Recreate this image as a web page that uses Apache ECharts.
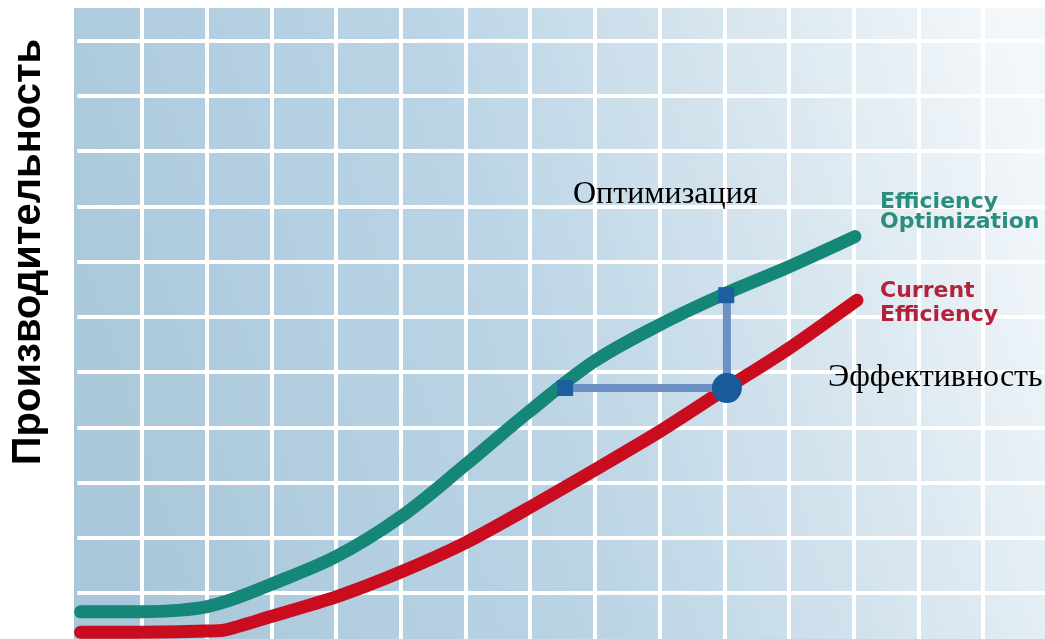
<!DOCTYPE html>
<html>
<head>
<meta charset="utf-8">
<script src="https://cdn.jsdelivr.net/npm/echarts@6/dist/echarts.min.js"></script>
<style>
html,body{margin:0;padding:0;background:#ffffff;}
#chart{width:1045px;height:639px;}
</style>
</head>
<body>
<div id="chart"></div>
<script>
// Efficiency Optimization curve (teal) – x in grid cells, y in grid cells
const optimizationX = [0.05, 1.0, 1.59, 1.99, 2.36, 2.98, 4.0, 5.0, 6.0, 6.98, 8.0, 9.01, 9.98, 10.99, 12.02];
const optimizationY = [0.66, 0.66, 0.69, 0.75, 0.87, 1.15, 1.66, 2.38, 3.32, 4.28, 5.20, 5.86, 6.40, 6.90, 7.45];
// Current Efficiency curve (red)
const currentX = [0.05, 1.0, 1.99, 2.28, 2.98, 4.0, 5.0, 6.0, 6.98, 8.0, 9.01, 10.04, 10.99, 12.05];
const currentY = [0.29, 0.29, 0.31, 0.33, 0.57, 0.93, 1.38, 1.91, 2.54, 3.23, 3.93, 4.71, 5.42, 6.30];
// Gap bracket between the curves
const gapX = [7.54, 10.04, 10.04];
const gapY = [4.71, 4.71, 6.39];
const squareX = [7.54, 10.03];
const squareY = [4.71, 6.39];
const circleX = [10.04];
const circleY = [4.71];
// Texts
const yTitle = 'Производительность';
const labelOptim = 'Оптимизация';
const labelEff = 'Эффективность';
const legendOptim = ['Efficiency', 'Optimization'];
const legendCurrent = ['Current', 'Efficiency'];

const zip = (xs, ys) => xs.map((x, i) => [x, ys[i]]);

const chart = echarts.init(document.getElementById('chart'), null, {renderer: 'canvas'});

const teal = '#158779';
const red = '#c90d1f';

chart.setOption({
  animation: false,
  backgroundColor: '#ffffff',
  grid: {left: 77.3, right: -2.8, top: -14.75, bottom: -9.25, containLabel: false, outerBoundsMode: 'none'},
  xAxis: {
    type: 'value', min: 0, max: 15, interval: 1,
    axisLine: {show: false}, axisTick: {show: false}, axisLabel: {show: false},
    splitLine: {show: true, showMinLine: false, lineStyle: {color: '#ffffff', width: 4}}
  },
  yAxis: {
    type: 'value', min: 0, max: 12, interval: 1,
    axisLine: {show: false}, axisTick: {show: false}, axisLabel: {show: false},
    splitLine: {show: true, lineStyle: {color: '#ffffff', width: 4}}
  },
  graphic: [
    {
      type: 'rect', z: -10, silent: true,
      shape: {x: 74, y: 8, width: 971, height: 631},
      style: {
        fill: new echarts.graphic.LinearGradient(0, 0.75, 1, 0.25, [
          {offset: 0, color: '#a9c7da'},
          {offset: 0.45, color: '#bad4e5'},
          {offset: 0.72, color: '#d5e4ee'},
          {offset: 1, color: '#f3f7fa'}
        ])
      }
    },
    {
      type: 'text', z: 100, x: 29, y: 252, rotation: Math.PI / 2,
      style: {text: yTitle, font: 'bold 40px "Liberation Sans", Arial, sans-serif', fill: '#000000', align: 'center', verticalAlign: 'middle'}
    },
    {
      type: 'text', z: 100, x: 573, y: 195,
      style: {text: labelOptim, font: '32px "Liberation Serif", "Times New Roman", serif', fill: '#000000', align: 'left', verticalAlign: 'middle'}
    },
    {
      type: 'text', z: 100, x: 828, y: 378,
      style: {text: labelEff, font: '32px "Liberation Serif", "Times New Roman", serif', fill: '#000000', align: 'left', verticalAlign: 'middle'}
    },
    {
      type: 'text', z: 100, x: 880, y: 202,
      style: {text: legendOptim[0], font: 'bold 22px "DejaVu Sans", sans-serif', fill: '#2c8d7f', align: 'left', verticalAlign: 'middle'}
    },
    {
      type: 'text', z: 100, x: 880, y: 222,
      style: {text: legendOptim[1], font: 'bold 22px "DejaVu Sans", sans-serif', fill: '#2c8d7f', align: 'left', verticalAlign: 'middle'}
    },
    {
      type: 'text', z: 100, x: 880, y: 291,
      style: {text: legendCurrent[0], font: 'bold 22px "DejaVu Sans", sans-serif', fill: '#b3213b', align: 'left', verticalAlign: 'middle'}
    },
    {
      type: 'text', z: 100, x: 880, y: 315,
      style: {text: legendCurrent[1], font: 'bold 22px "DejaVu Sans", sans-serif', fill: '#b3213b', align: 'left', verticalAlign: 'middle'}
    }
  ],
  series: [
    {
      name: 'Current Efficiency', type: 'line', data: zip(currentX, currentY),
      smooth: 0.25, symbol: 'none', z: 3,
      lineStyle: {color: red, width: 13, cap: 'round', join: 'round'}
    },
    {
      name: 'Efficiency Optimization', type: 'line', data: zip(optimizationX, optimizationY),
      smooth: 0.35, symbol: 'none', z: 3,
      lineStyle: {color: teal, width: 13, cap: 'round', join: 'round'}
    },
    {
      name: 'Gap', type: 'line', data: zip(gapX, gapY), symbol: 'none', z: 4,
      lineStyle: {color: '#6d91c4', width: 8, join: 'miter'}
    },
    {
      name: 'Squares', type: 'scatter', data: zip(squareX, squareY), symbol: 'rect', symbolSize: 16, z: 5,
      itemStyle: {color: '#1d5e9e', opacity: 1}
    },
    {
      name: 'Circle', type: 'scatter', data: zip(circleX, circleY), symbol: 'circle', symbolSize: 30, z: 5,
      itemStyle: {color: '#185b9b', opacity: 1}
    }
  ]
});
</script>
</body>
</html>
